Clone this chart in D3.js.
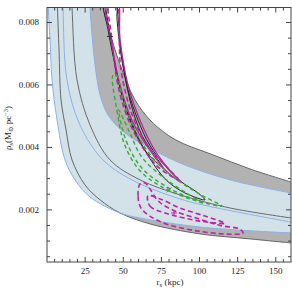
<!DOCTYPE html>
<html><head><meta charset="utf-8">
<script src="https://cdn.jsdelivr.net/npm/d3@7"></script>
<style>body{margin:0;background:#fff}svg{display:block}text{font-family:"Liberation Serif","DejaVu Serif",serif;fill:#222}</style>
</head><body><svg id="c" width="292" height="292"></svg>
<script>
const xDomain=[0,160], yDomain=[0.00033,0.00848];
const xTicks=[25,50,75,100,125,150];
const yTicks=[0.002,0.004,0.006,0.008];
// [r_s (kpc), rho_s (Msun pc^-3)]
const grayUpper=[[35.5,0.0092],[36.7,0.00848],[42.6,0.00744],[49.2,0.00648],[57.7,0.00552],[67.5,0.00488],[77.4,0.00446],[87.2,0.00417],[108.9,0.00376],[133.1,0.00331],[160,0.00289]];
const grayLower=[[6.7,0.0092],[6.9,0.00848],[7.9,0.00712],[9.2,0.00552],[12.5,0.00456],[16.4,0.0036],[24.9,0.0028],[34.8,0.00232],[47.9,0.0019],[67.5,0.00155],[100.3,0.00123],[133.1,0.00107],[160,0.00094]];
const blueUpper=[[27.6,0.0092],[28.2,0.00848],[29.5,0.0076],[31.5,0.00664],[34.8,0.00568],[40.0,0.00504],[51.1,0.00446],[64.9,0.00405],[87.2,0.0035],[120,0.00296],[160,0.00254]];
const blueLower=[[0.75,0.0092],[0.85,0.00848],[2.0,0.00744],[3.3,0.00616],[6.6,0.00488],[11.8,0.0036],[18.4,0.00296],[28.2,0.00241],[47.9,0.0019],[61,0.00174],[100.3,0.00145],[160,0.00126]];
const darkLine=[[15.8,0.0092],[16.4,0.00848],[19.7,0.00616],[28.2,0.00472],[41.3,0.0036],[61,0.00296],[87.2,0.00248],[120,0.00206],[160,0.00174]];
const blueLine=[[10.1,0.0092],[10.5,0.00848],[13.1,0.00616],[21.6,0.00472],[36.7,0.0036],[55.7,0.00296],[87.2,0.00235],[111.5,0.00206],[160,0.00161]];
const blackOuter=[[37.4,0.00874],[40,0.00777],[43.9,0.0068],[49.2,0.00567],[57.7,0.00454],[67.5,0.00364],[78.7,0.00293],[90.5,0.00254],[103.6,0.00232],[99,0.00254],[87.2,0.00293],[77.4,0.00341],[67.5,0.00406],[59.7,0.00487],[53.1,0.00584],[48.5,0.00697],[45.9,0.0081],[45.2,0.00874]];
const blackInner=[[39.3,0.00874],[42,0.00745],[46.6,0.00616],[54.4,0.00487],[64.3,0.0039],[76.1,0.00335],[70.8,0.00374],[62.3,0.00438],[54.4,0.00551],[48.5,0.00713],[43.9,0.00874]];
const magentaSolid=[[38.7,0.00874],[42.6,0.00729],[47.9,0.006],[55.7,0.00487],[67.5,0.0039],[79.3,0.00319],[88.5,0.00287],[81.9,0.00319],[70.8,0.0039],[61,0.00487],[53.1,0.006],[47.9,0.00745],[45.9,0.00874]];
const magentaDashUpper=[[40.6,0.00874],[42.6,0.00745],[47.2,0.00584],[56.5,0.00454],[72,0.00341],[86,0.00298],[79,0.00335],[66,0.00406],[56,0.00503],[48.5,0.00648],[45,0.00874]];
const magentaDashOuter=[[61,0.00283],[59.7,0.00244],[61.6,0.00206],[67.5,0.0018],[78.7,0.00154],[100.3,0.00131],[120,0.00122],[128.5,0.00125],[126.6,0.00138],[113.4,0.0015],[100.3,0.0017],[83.9,0.00196],[72.8,0.00229],[67.5,0.00267],[64.3,0.00286]];
const magentaDashInner=[[66.2,0.00245],[67.5,0.00212],[77.4,0.0019],[100.3,0.00164],[116.7,0.00157],[103.6,0.0018],[87.2,0.00206],[74.1,0.00235]];
const greenDashOuter=[[43.3,0.00631],[45.9,0.00518],[51.1,0.00406],[61,0.00325],[74.1,0.00277],[93.8,0.00235],[114.8,0.00212],[103.6,0.00241],[87.2,0.0029],[70.8,0.00358],[57.7,0.00454],[49.2,0.00567],[45.6,0.00631]];
const greenDashInner=[[47,0.0052],[52,0.0042],[62,0.00335],[78,0.00275],[103,0.0022],[92,0.00252],[76,0.00305],[62,0.0037],[54,0.0045]];
const plusBlack=[41.3,0.00755], plusMagenta=[83.3,0.0019], crossGreen=[80,0.00264];

const m={l:47,r:291,t:7.5,b:262};
const svg=d3.select("#c");
const x=d3.scaleLinear().domain(xDomain).range([m.l,m.r]);
const y=d3.scaleLinear().domain(yDomain).range([m.b,m.t]);
svg.append("clipPath").attr("id","clip").append("rect").attr("x",m.l).attr("y",m.t).attr("width",m.r-m.l).attr("height",m.b-m.t);
const g=svg.append("g").attr("clip-path","url(#clip)");
const line=d3.line().x(d=>x(d[0])).y(d=>y(d[1])).curve(d3.curveCatmullRom.alpha(0.5));
const closed=d3.line().x(d=>x(d[0])).y(d=>y(d[1])).curve(d3.curveCatmullRomClosed.alpha(0.5));
function band(lo,up){const a=line(up);const b=line(lo.slice().reverse());return a+"L"+b.slice(1)+"Z";}
g.append("path").attr("d",band(grayLower,grayUpper)).attr("fill","#b2b2b2");
g.append("path").attr("d",band(blueLower,blueUpper)).attr("fill","#d3e1e9");
[grayUpper,grayLower].forEach(c=>g.append("path").attr("d",line(c)).attr("fill","none").attr("stroke","#666").attr("stroke-width",1));
[blueUpper,blueLower].forEach(c=>g.append("path").attr("d",line(c)).attr("fill","none").attr("stroke","#8cb0e6").attr("stroke-width",1));
g.append("path").attr("d",line(darkLine)).attr("fill","none").attr("stroke","#6a6a6a").attr("stroke-width",1);
g.append("path").attr("d",line(blueLine)).attr("fill","none").attr("stroke","#8cb0e6").attr("stroke-width",1);
[blackOuter,blackInner].forEach(c=>g.append("path").attr("d",closed(c)).attr("fill","none").attr("stroke","#222").attr("stroke-width",1));
g.append("path").attr("d",closed(magentaSolid)).attr("fill","none").attr("stroke","#b5209c").attr("stroke-width",1.2);
[magentaDashUpper,magentaDashOuter,magentaDashInner].forEach(c=>g.append("path").attr("d",closed(c)).attr("fill","none").attr("stroke","#c0249f").attr("stroke-width",1.6).attr("stroke-dasharray","5,3"));
[greenDashOuter,greenDashInner].forEach(c=>g.append("path").attr("d",closed(c)).attr("fill","none").attr("stroke","#3aa83a").attr("stroke-width",1.4).attr("stroke-dasharray","4,3"));
function plus(p,col){const cx=x(p[0]),cy=y(p[1]);g.append("path").attr("d",`M${cx-3},${cy}H${cx+3}M${cx},${cy-3}V${cy+3}`).attr("stroke",col).attr("stroke-width",1);}
function cross(p,col){const cx=x(p[0]),cy=y(p[1]);g.append("path").attr("d",`M${cx-2.5},${cy-2.5}L${cx+2.5},${cy+2.5}M${cx-2.5},${cy+2.5}L${cx+2.5},${cy-2.5}`).attr("stroke",col).attr("stroke-width",1);}
plus(plusBlack,"#333");plus(plusMagenta,"#c0249f");cross(crossGreen,"#3aa83a");
const ax=svg.append("g");
ax.append("rect").attr("x",m.l).attr("y",m.t).attr("width",m.r-m.l).attr("height",m.b-m.t).attr("fill","none").attr("stroke","#444").attr("stroke-width",1);
const xMinor=d3.range(5,160,5), yMinor=d3.range(0.0005,0.0085,0.0005);
xMinor.forEach(v=>{const major=xTicks.includes(v);const L=major?5:3;
 ax.append("line").attr("x1",x(v)).attr("x2",x(v)).attr("y1",m.b).attr("y2",m.b-L).attr("stroke","#444");
 ax.append("line").attr("x1",x(v)).attr("x2",x(v)).attr("y1",m.t).attr("y2",m.t+L).attr("stroke","#444");});
yMinor.forEach(v=>{const major=yTicks.some(t=>Math.abs(t-v)<1e-9);const L=major?5:3;
 ax.append("line").attr("y1",y(v)).attr("y2",y(v)).attr("x1",m.l).attr("x2",m.l+L).attr("stroke","#444");
 ax.append("line").attr("y1",y(v)).attr("y2",y(v)).attr("x1",m.r).attr("x2",m.r-L).attr("stroke","#444");});
xTicks.forEach(v=>ax.append("text").attr("x",x(v)).attr("y",m.b+12).attr("text-anchor","middle").attr("font-size",9).text(v));
yTicks.forEach(v=>ax.append("text").attr("x",m.l-8).attr("y",y(v)+3).attr("text-anchor","end").attr("font-size",9).text(d3.format(".3f")(v)));
const xl=ax.append("text").attr("x",(m.l+m.r)/2+1).attr("y",m.b+23).attr("text-anchor","middle").attr("font-size",9);
xl.append("tspan").text("r");xl.append("tspan").attr("font-size",6.5).attr("dy",2).text("s");xl.append("tspan").attr("dy",-2).text(" (kpc)");
const yl=ax.append("text").attr("transform",`translate(11,128) rotate(-90)`).attr("text-anchor","middle").attr("font-size",9);
yl.append("tspan").text("ρ");yl.append("tspan").attr("font-size",6.5).attr("dy",2).text("s");yl.append("tspan").attr("dy",-2).text("(M");yl.append("tspan").attr("font-size",6.5).attr("dy",2).text("⊙");yl.append("tspan").attr("dy",-2).text(" pc");yl.append("tspan").attr("font-size",6.5).attr("dy",-3).text("−3");yl.append("tspan").attr("dy",3).text(")");
</script></body></html>
